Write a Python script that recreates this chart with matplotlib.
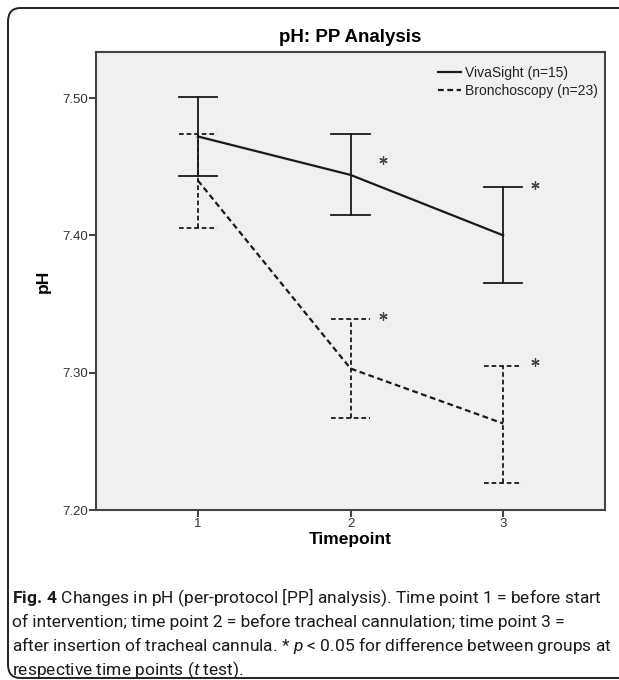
import matplotlib as mpl

mpl.use("Agg")
import matplotlib.pyplot as plt
from matplotlib.patches import FancyBboxPatch

plt.rcParams["font.family"] = ["Liberation Sans", "DejaVu Sans"]
plt.rcParams["mathtext.fontset"] = "custom"
plt.rcParams["mathtext.rm"] = "Roboto"
plt.rcParams["mathtext.it"] = "Roboto:italic"
plt.rcParams["mathtext.bf"] = "Roboto:bold"

# data (pH, mean and error-bar ends)
timepoints = [1, 2, 3]
viva_mean = [7.472, 7.444, 7.400]
viva_low = [7.443, 7.415, 7.365]
viva_high = [7.501, 7.474, 7.435]
bron_mean = [7.440, 7.303, 7.263]
bron_low = [7.405, 7.267, 7.220]
bron_high = [7.474, 7.339, 7.305]
viva_label = "VivaSight (n=15)"
bron_label = "Bronchoscopy (n=23)"
# significant timepoints (star) per series
viva_sig = [2, 3]
bron_sig = [2, 3]

caption = [
    r"$\mathbf{Fig.\,4}$ Changes in pH (per-protocol [PP] analysis). Time point 1 = before start",
    "of intervention; time point 2 = before tracheal cannulation; time point 3 =",
    r"after insertion of tracheal cannula. * $\mathit{p}$ < 0.05 for difference between groups at",
    r"respective time points ($\mathit{t}$ test).",
]

W, H = 619, 680
fig = plt.figure(figsize=(W / 100, H / 100), dpi=100)

# rounded frame around figure + caption (right side runs off the image)
frame = FancyBboxPatch((8 / W, 2 / H), 680 / W, 670 / H, boxstyle="round,pad=0,rounding_size=0.02",
                       transform=fig.transFigure, fill=False, ec="#222222", lw=1.4)
fig.patches.append(frame)

ax = fig.add_axes([96 / W, 1 - 510 / H, 509 / W, 458 / H])
ax.set_facecolor("#f0f0f0")
for s in ax.spines.values():
    s.set_color("#444444")
    s.set_linewidth(1.5)

dash = (0, (2.6, 1.6))
cap = 0.125


def draw_series(mean, low, high, ls, label):
    ax.plot(timepoints, mean, color="#1a1a1a", lw=1.6, ls=ls, label=label)
    for x, lo, hi in zip(timepoints, low, high):
        ax.plot([x, x], [lo, hi], color="#1a1a1a", lw=1.3, ls=ls)
        ax.plot([x - cap, x + cap], [lo, lo], color="#1a1a1a", lw=1.3, ls=ls)
        ax.plot([x - cap, x + cap], [hi, hi], color="#1a1a1a", lw=1.3, ls=ls)


draw_series(viva_mean, viva_low, viva_high, "-", viva_label)
draw_series(bron_mean, bron_low, bron_high, dash, bron_label)

# stars next to the upper caps
star_dy = {("v", 2): -0.019, ("v", 3): 0.002, ("b", 2): 0.002, ("b", 3): 0.003}
for key, sig, high in (("v", viva_sig, viva_high), ("b", bron_sig, bron_high)):
    for t in sig:
        ax.plot(t + 0.21, high[t - 1] + star_dy[(key, t)], marker=(6, 2, 0), ms=6,
                mew=0.9, color="#444444")

ax.set_xlim(0.333, 3.667)
ax.set_ylim(7.20, 7.5335)
ax.set_xticks(timepoints)
ax.set_yticks([7.20, 7.30, 7.40, 7.50])
ax.set_yticklabels(["7.20", "7.30", "7.40", "7.50"])
ax.tick_params(direction="out", length=5, width=1.3, color="#333333", labelsize=9.5,
               labelcolor="#333333", pad=1)
ax.set_xlabel("Timepoint", fontsize=12.5, fontweight="bold", labelpad=1)
ax.set_ylabel("pH", fontsize=12.5, fontweight="bold", labelpad=8)
ax.set_title("pH: PP Analysis", fontsize=13.5, fontweight="bold", pad=7.5)

leg = ax.legend(loc="upper right", frameon=False, fontsize=10, handlelength=1.65,
                handletextpad=0.3, labelspacing=0.3, borderaxespad=0.1,
                bbox_to_anchor=(1.0, 0.985))
for t in leg.get_texts():
    t.set_color("#222222")

for i, line in enumerate(caption):
    fig.text(12 / W, 1 - (598 + 24 * i) / H, line, fontsize=12.5, family="Roboto",
             color="#1a1a1a", va="center", ha="left")

fig.savefig("out.png", dpi=100)
